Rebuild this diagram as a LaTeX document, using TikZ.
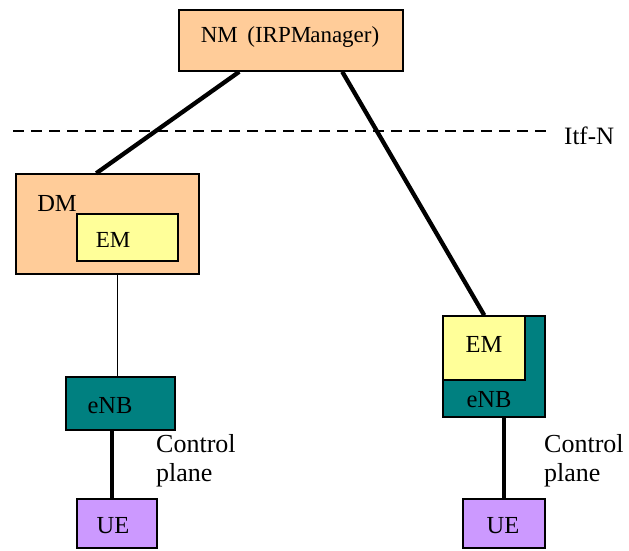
\documentclass[tikz,border=0pt]{standalone}
\usepackage{fontspec}
\setmainfont{Liberation Serif}
\usetikzlibrary{calc}
\definecolor{peach}{HTML}{FFCC99}
\definecolor{paleyellow}{HTML}{FFFF99}
\definecolor{enbteal}{HTML}{008080}
\definecolor{uepurple}{HTML}{CC99FF}
\begin{document}
\begin{tikzpicture}[x=1pt,y=-1pt,
  box/.style={draw=black,line width=1.5pt,inner sep=0pt,minimum width=#1},
  lbl/.style={inner sep=0pt,font=\fontsize{23}{28}\selectfont},
  big/.style={inner sep=0pt,font=\fontsize{24.5}{28}\selectfont},
  link/.style={line width=4.3pt},
  thinlink/.style={line width=1pt}]
\useasboundingbox (0,0) rectangle (629,550);
% management boxes
\node[box=224pt,minimum height=61pt,fill=peach] (NM) at (291,40.5) {};
\node[lbl] (NMt) at (290,37) {NM\ \,(IRPM\kern-1pt anager)};
\node[box=183pt,minimum height=100pt,fill=peach] (DM) at (107.5,224) {};
\node[big] (DMt) at (57,203) {DM};
\node[box=101pt,minimum height=47pt,fill=paleyellow] (EM1) at (127.5,237.5) {};
\node[lbl] (EM1t) at (113,240) {EM};
% left network element
\node[box=109pt,minimum height=53pt,fill=enbteal] (ENB1) at (120.5,403.5) {};
\node[big] (ENB1t) at (110,406) {eNB};
\node[box=80pt,minimum height=49pt,fill=uepurple] (UE1) at (117,523.5) {};
\node[big] (UE1t) at (113,526) {UE};
% right network element with integrated EM
\node[box=102pt,minimum height=101pt,fill=enbteal] (ENB2) at (494,366.5) {};
\node[box=82pt,minimum height=64pt,fill=paleyellow] (EM2) at (484,348) {};
\node[big] (EM2t) at (484,344) {EM};
\node[big] (ENB2t) at (489,400) {eNB};
\node[box=82pt,minimum height=49pt,fill=uepurple] (UE2) at (504,523.5) {};
\node[big] (UE2t) at (503,526) {UE};
% Itf-N boundary
\coordinate (itfL) at (13,131);
\coordinate (itfR) at (546,131);
\draw[line width=1.5pt,dash pattern=on 11pt off 7pt] (itfL) -- (itfR);
\node[inner sep=0pt,anchor=west,font=\fontsize{25}{28}\selectfont] (itf) at (564,136) {Itf-N};
% connectors
\draw[link] ($(NM.south west)+(61,0)$) -- ($(DM.north west)+(81,0)$);
\draw[link] ($(NM.south west)+(164,0)$) -- ($(EM2.north west)+(42,0)$);
\draw[thinlink] ($(DM.south west)+(102,0)$) -- ($(ENB1.north west)+(52,0)$);
\draw[link] ($(ENB1.south west)+(47,0)$) -- ($(UE1.north west)+(36,0)$);
\draw[link] ($(ENB2.south west)+(62,0)$) -- ($(UE2.north west)+(42,0)$);
% control plane labels
\node[inner sep=0pt,anchor=north west,align=left,font=\fontsize{26}{29}\selectfont] (cp1) at (156,434) {Control\\plane};
\node[inner sep=0pt,anchor=north west,align=left,font=\fontsize{26}{29}\selectfont] (cp2) at (544,434) {Control\\plane};
\end{tikzpicture}
\end{document}
